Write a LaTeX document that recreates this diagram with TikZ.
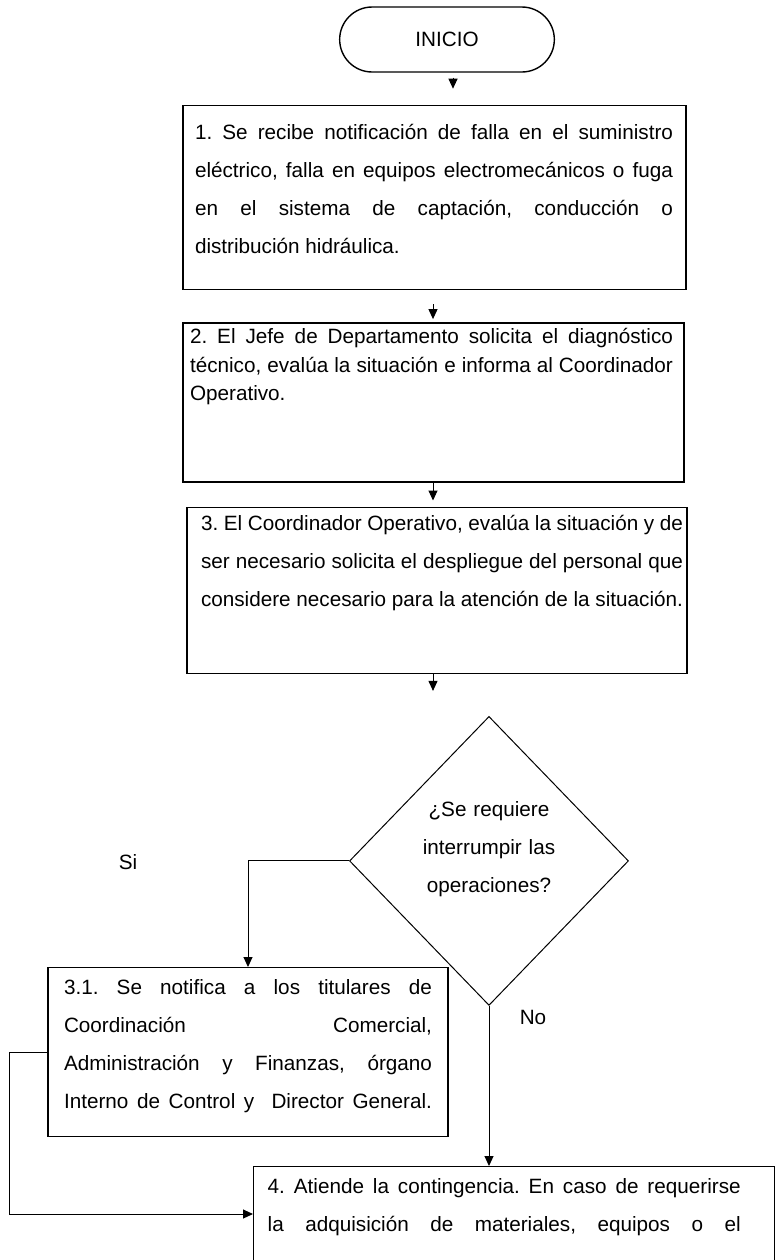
\documentclass[tikz,border=0pt]{standalone}
\usepackage{fontspec}
\setmainfont{Liberation Sans}
\usetikzlibrary{arrows.meta,positioning,shapes.geometric,shapes.misc}

\begin{document}
\begin{tikzpicture}[node distance=16pt, line width=0.5pt,
  >={Triangle[length=5pt,width=4.5pt]},
  every node/.style={font=\fontsize{10.35}{19}\selectfont\frenchspacing},
  box/.style={draw, line width=0.7pt, inner xsep=0pt, inner ysep=0pt, align=justify},
  start/.style={draw, rounded rectangle, line width=0.7pt,
    minimum width=114pt, minimum height=32.5pt},
  decision/.style={draw, diamond, inner sep=0pt, text width=70pt, align=center,
    minimum width=139.5pt, minimum height=144.5pt, text height=8pt, text depth=52pt},
  lbl/.style={inner sep=0pt}]
\useasboundingbox (0,0) rectangle (388pt,-630pt);
\clip (0,0) rectangle (388pt,-630pt);

% main column
\node[start] (inicio) at (223.5pt,-19.75pt) {INICIO};
\node[box, below=16pt of inicio, xshift=-6.25pt, text width=251.5pt,
      text height=17pt, text depth=75pt] (s1)
  {\leftskip=6pt \rightskip=6.5pt
   1. Se recibe notificación de falla en el suministro \linebreak
   eléctrico, falla en equipos electromecánicos o fuga \linebreak
   en el sistema de captación, conducción o \linebreak
   distribución hidráulica.\par};
\node[box, below=16pt of s1, xshift=-0.5pt, text width=250.5pt,
      text height=10.5pt, text depth=69pt,
      font=\fontsize{10.35}{14.25}\selectfont\frenchspacing] (s2)
  {\leftskip=3.5pt \rightskip=5.5pt
   2. El Jefe de Departamento solicita el diagnóstico \linebreak
   técnico, evalúa la situación e informa al Coordinador \linebreak
   Operativo.\par};
\node[box, below=12pt of s2, xshift=1.75pt, text width=250pt,
      text height=11.5pt, text depth=71.5pt] (s3)
  {\leftskip=7pt \rightskip=2pt \parfillskip=0pt
   3. El Coordinador Operativo, evalúa la situación y de \linebreak
   ser necesario solicita el despliegue del personal que \linebreak
   considere necesario para la atención de la situación.\par};
\node[decision, below=21pt of s3, xshift=26pt] (q)
  {¿Se requiere\\ interrumpir las\\ operaciones?};

% branches
\node[box, anchor=north, text width=200pt, text height=13.5pt, text depth=71pt]
  (s31) at (124pt,-483.5pt)
  {\leftskip=8pt \rightskip=8pt \parfillskip=0pt
   3.1. Se notifica a los titulares de \linebreak
   Coordinación Comercial, \linebreak
   Administración y Finanzas, órgano \linebreak
   Interno de Control y\ \ Director General.\par};
\node[box, anchor=north west, text width=260.5pt, text height=13.5pt, text depth=60pt]
  (s4) at (126.5pt,-583pt)
  {\leftskip=7pt \rightskip=17pt \parfillskip=0pt
   4. Atiende la contingencia. En caso de requerirse \linebreak
   la adquisición de materiales, equipos o el\par};

\node[lbl] (si) at (64pt,-431pt) {Si};
\node[lbl] (no) at (266.5pt,-508.5pt) {No};

\coordinate (e3) at ([xshift=-2pt,yshift=-8.5pt]s3.south);

\draw[->, shorten <=2.5pt, shorten >=8pt] ([xshift=3pt]inicio.south)
  -- ([xshift=3pt]inicio.south |- s1.north);
\draw[->, shorten <=7pt, shorten >=1.5pt] ([xshift=-0.75pt]s1.south)
  -- ([xshift=-0.75pt]s1.south |- s2.north);
\draw[->, shorten >=3pt] ([xshift=-0.25pt]s2.south)
  -- ([xshift=-0.25pt]s2.south |- s3.north);
\draw[->] ([xshift=-2pt]s3.south) -- (e3);
\draw[->] (q.west) -| (s31.north);
\draw[->] (q.south) -- (q.south |- s4.north);
\draw[->] (s31.west) -- ++(-19pt,0) |- ([yshift=-24pt]s4.north west);
\end{tikzpicture}
\end{document}
